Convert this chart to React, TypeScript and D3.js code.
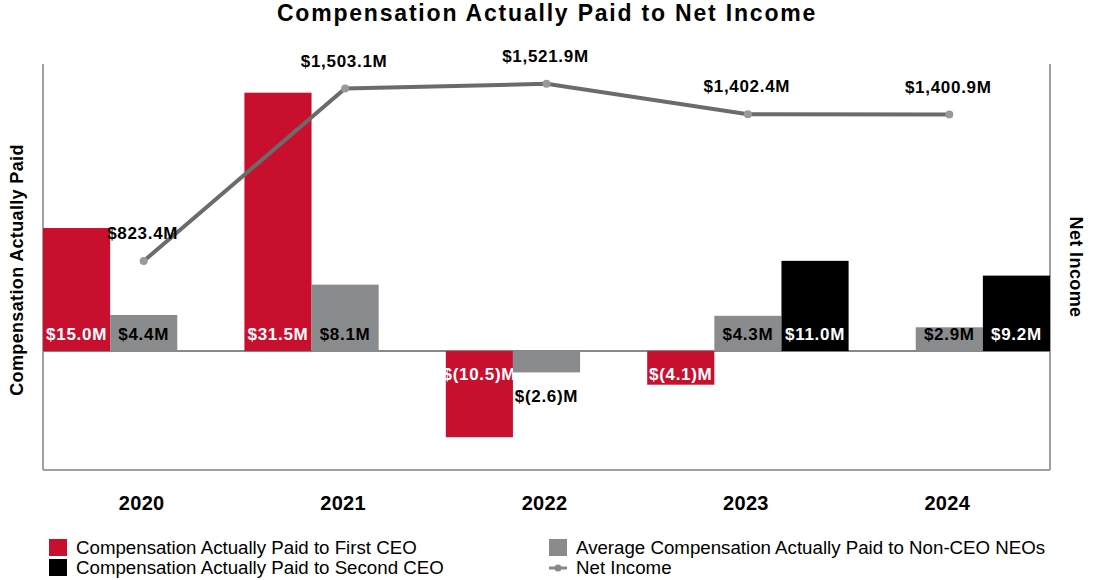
import * as d3 from 'd3'
import React, { useRef, useEffect } from 'react'

// Chart data
const years = ['2020', '2021', '2022', '2023', '2024']
const seriesNames = [
  'Compensation Actually Paid to First CEO',
  'Average Compensation Actually Paid to Non-CEO NEOs',
  'Compensation Actually Paid to Second CEO',
]
const firstCeo = [15.0, 31.5, -10.5, -4.1, null]
const nonCeoNeos = [4.4, 8.1, -2.6, 4.3, 2.9]
const secondCeo = [null, null, null, 11.0, 9.2]
const netIncome = [823.4, 1503.1, 1521.9, 1402.4, 1400.9]
const colors = ['#c8102e', '#898b8c', '#000000']

const fmtComp = (v: number) => v < 0 ? `$(${Math.abs(v).toFixed(1)})M` : `$${v.toFixed(1)}M`
const fmtNet = (v: number) => `$${d3.format(',.1f')(v)}M`

const CompChart = () => {
  const ref = useRef<SVGSVGElement | null>(null)

  useEffect(() => {
    const svg = d3.select(ref.current)
    svg.selectAll('*').remove()
    const font = 'Liberation Sans, Arial, sans-serif'
    const left = 43, right = 1050, top = 64, bottom = 470

    const x = d3.scaleBand().domain(years).range([left, right])
    const xs = d3.scaleBand().domain(['0', '1', '2']).range([0, x.bandwidth()])
    const y = d3.scaleLinear().domain([-14.5, 35]).range([bottom, top])
    const y2 = d3.scaleLinear().domain([0, 1600]).range([bottom, top])

    // Title
    svg.append('text')
      .attr('x', 547).attr('y', 21)
      .attr('text-anchor', 'middle')
      .style('font-family', font).style('font-weight', 'bold').style('font-size', '23px')
      .style('letter-spacing', '1.8px')
      .text('Compensation Actually Paid to Net Income')

    // Frame lines
    const frame = svg.append('g').attr('stroke', '#a0a0a0').attr('stroke-width', 2)
    frame.append('line').attr('x1', left).attr('x2', left).attr('y1', top).attr('y2', bottom)
    frame.append('line').attr('x1', right).attr('x2', right).attr('y1', top).attr('y2', bottom)
    frame.append('line').attr('x1', left).attr('x2', right).attr('y1', bottom).attr('y2', bottom)

    // Zero line
    svg.append('line')
      .attr('x1', left).attr('x2', right).attr('y1', y(0)).attr('y2', y(0))
      .attr('stroke', '#888').attr('stroke-width', 2)

    // Bars
    const all = [firstCeo, nonCeoNeos, secondCeo]
    all.forEach((series, si) => {
      series.forEach((v, i) => {
        if (v == null) return
        const bx = (x(years[i]) as number) + (xs(String(si)) as number)
        const bw = xs.bandwidth()
        svg.append('rect')
          .attr('x', bx).attr('width', bw)
          .attr('y', Math.min(y(v), y(0)))
          .attr('height', Math.abs(y(v) - y(0)))
          .attr('fill', colors[si])

        const dark = si === 1
        const small = Math.abs(y(v) - y(0)) < 25
        let ly
        if (v >= 0) ly = y(0) - 11
        else if (small) ly = y(v) + 30
        else ly = y(0) + 29
        svg.append('text')
          .attr('x', bx + bw / 2).attr('y', ly)
          .attr('text-anchor', 'middle')
          .attr('fill', dark || small ? '#000' : '#fff')
          .style('font-family', font).style('font-weight', 'bold').style('font-size', '17px')
          .style('letter-spacing', '0.7px')
          .text(fmtComp(v))
      })
    })

    // Net income line
    const cx = (i: number) => (x(years[i]) as number) + x.bandwidth() / 2
    const line = d3.line<number>().x((d, i) => cx(i)).y(d => y2(d))
    svg.append('path')
      .datum(netIncome)
      .attr('d', line)
      .attr('fill', 'none').attr('stroke', '#6b6b6b').attr('stroke-width', 4)
    netIncome.forEach((v, i) => {
      svg.append('circle').attr('cx', cx(i)).attr('cy', y2(v)).attr('r', 4).attr('fill', '#999')
      svg.append('text')
        .attr('x', cx(i) - 1).attr('y', y2(v) - 22)
        .attr('text-anchor', 'middle')
        .style('font-family', font).style('font-weight', 'bold').style('font-size', '17px')
        .style('letter-spacing', '0.7px')
        .text(fmtNet(v))
    })

    // Year labels
    years.forEach(yr => {
      svg.append('text')
        .attr('x', (x(yr) as number) + x.bandwidth() / 2 - 2).attr('y', 510)
        .attr('text-anchor', 'middle')
        .style('font-family', font).style('font-weight', 'bold').style('font-size', '20px')
        .style('letter-spacing', '0.3px')
        .text(yr)
    })

    // Axis titles
    svg.append('text')
      .attr('transform', `translate(23, ${(top + bottom) / 2 + 3}) rotate(-90)`)
      .attr('text-anchor', 'middle')
      .style('font-family', font).style('font-weight', 'bold').style('font-size', '18px')
      .style('letter-spacing', '0.35px')
      .text('Compensation Actually Paid')
    svg.append('text')
      .attr('transform', `translate(1070, ${(top + bottom) / 2}) rotate(90)`)
      .attr('text-anchor', 'middle')
      .style('font-family', font).style('font-weight', 'bold').style('font-size', '18px')
      .style('letter-spacing', '0.4px')
      .text('Net Income')

    // Legend
    const legend = [
      { label: seriesNames[0], color: colors[0], lx: 49, ly: 548, line: false },
      { label: seriesNames[2], color: colors[2], lx: 49, ly: 568, line: false },
      { label: seriesNames[1], color: colors[1], lx: 549, ly: 548, line: false },
      { label: 'Net Income', color: '#888', lx: 549, ly: 568, line: true },
    ]
    legend.forEach(l => {
      if (l.line) {
        svg.append('line').attr('x1', l.lx).attr('x2', l.lx + 18).attr('y1', l.ly).attr('y2', l.ly)
          .attr('stroke', l.color).attr('stroke-width', 3)
        svg.append('circle').attr('cx', l.lx + 9).attr('cy', l.ly).attr('r', 3.5).attr('fill', l.color)
      } else {
        svg.append('rect').attr('x', l.lx).attr('y', l.ly - 9).attr('width', 18).attr('height', 17)
          .attr('fill', l.color)
      }
      svg.append('text')
        .attr('x', l.lx + 27).attr('y', l.ly + 6)
        .style('font-family', font).style('font-size', '18.7px')
        .text(l.label)
    })
  }, [])

  return <svg ref={ref} width={1094} height={580} style={{ display: 'block' }} />
}

export default function App() {
  return (
    <div style={{ position: 'absolute', left: 0, top: 0 }}>
      <CompChart />
    </div>
  )
}
